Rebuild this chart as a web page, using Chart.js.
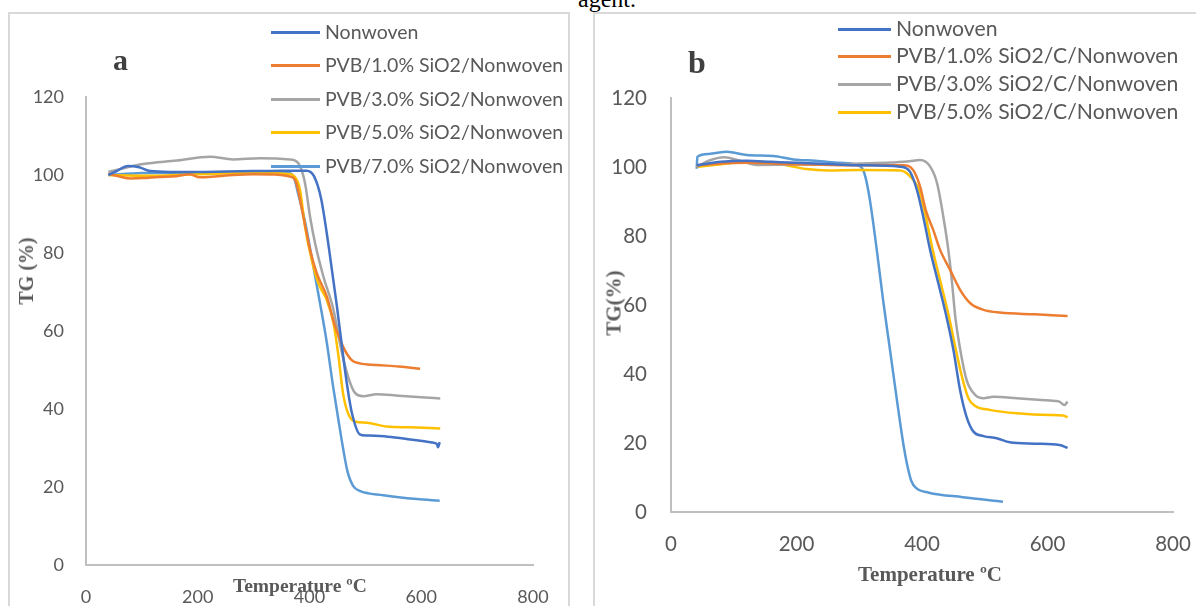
<!DOCTYPE html>
<html lang="en">

<head>
    <meta charset="UTF-8">
    <title>TG curves a / b</title>
    <script src="https://cdn.jsdelivr.net/npm/chart.js"></script>
    <style>
        body { margin: 0; width: 1196px; height: 606px; overflow: hidden; background: #fff; position: relative; font-family: Lato, sans-serif; }
        .frame { position: absolute; border: 2px solid #d9d9d9; }
        canvas { position: absolute; top: 0; }
        .txt { position: absolute; white-space: nowrap; color: #595959; line-height: 1; }
        .serif { font-family: "Liberation Serif", serif; font-weight: bold; }
        .swatch { position: absolute; height: 3px; }
        .rot { transform: translate(-50%, -50%) rotate(-90deg); }
    </style>
</head>

<body>
    <div class="txt" style="left:578px; top:-13px; font-family:'Liberation Serif',serif; font-size:24px; color:#000;">agent.</div>

    <div class="frame" style="left:8px; top:12px; width:558px; height:640px;"></div>
    <div class="frame" style="left:593px; top:12px; width:640px; height:640px;"></div>

    <canvas id="chartA" width="596" height="606" style="left:0px;"></canvas>
    <canvas id="chartB" width="600" height="606" style="left:596px;"></canvas>

    <div class="txt serif" style="left:113px; top:45px; font-size:30px; color:#404040;">a</div>
    <div class="txt serif" style="left:688px; top:46px; font-size:32px; color:#404040;">b</div>

    <div class="txt serif" style="left:233px; top:576px; font-size:19.5px;">Temperature ºC</div>
    <div class="txt serif" style="left:858px; top:564px; font-size:21px;">Temperature ºC</div>
    <div class="txt serif rot" style="left:26px; top:271px; font-size:20px;">TG (%)</div>
    <div class="txt serif rot" style="left:614px; top:303px; font-size:21px;">TG(%)</div>

    <div id="legendA"></div>
    <div id="legendB"></div>

    <script>
        // axis ticks (same for both panels)
        const tempTicks = [0, 200, 400, 600, 800];
        const tgTicks = [0, 20, 40, 60, 80, 100, 120];

        const colors = ['#4472C4', '#ED7D31', '#A5A5A5', '#FFC000', '#5B9BD5'];

        // ---- panel a ----
        const namesA = ['Nonwoven', 'PVB/1.0% SiO2/Nonwoven', 'PVB/3.0% SiO2/Nonwoven', 'PVB/5.0% SiO2/Nonwoven', 'PVB/7.0% SiO2/Nonwoven'];

        const aNonwovenT = [40, 55, 75, 95, 115, 150, 200, 250, 300, 350, 395, 408, 421, 435, 449, 462, 469, 476, 490, 502, 540, 580, 620, 628, 630, 633];
        const aNonwovenTG = [100, 101, 102.3, 102, 101, 100.8, 100.8, 100.9, 101, 101.1, 101.1, 99.7, 93.8, 81, 66.4, 51.6, 44.5, 38.9, 33.5, 33.2, 32.9, 32.2, 31.4, 31, 30.2, 31.5];

        const aPvb1T = [40, 60, 80, 102, 130, 162, 185, 204, 230, 263, 300, 340, 365, 375, 389, 401, 413, 431, 446, 460, 475, 490, 520, 560, 598];
        const aPvb1TG = [100.3, 99.6, 99.1, 99.2, 99.5, 99.7, 100.2, 99.4, 99.6, 100, 100.2, 100.1, 99.6, 98.5, 89.3, 80.8, 74.8, 68.8, 61.1, 56, 52.6, 51.7, 51.3, 50.9, 50.3];

        const aPvb3T = [40, 60, 102, 162, 222, 263, 311, 365, 380, 392, 401, 410, 425, 443, 457, 469, 481, 496, 520, 560, 600, 634];
        const aPvb3TG = [100.8, 101.5, 102.8, 103.7, 104.7, 104, 104.3, 104, 103, 97.9, 89.3, 82.5, 73.9, 65.4, 55.1, 48.3, 44.2, 43.3, 43.8, 43.4, 43, 42.7];

        const aPvb5T = [40, 100, 200, 300, 365, 374, 383, 392, 404, 416, 431, 443, 452, 460, 469, 481, 502, 538, 580, 634];
        const aPvb5TG = [100, 99.8, 100.2, 100.5, 100.2, 99.5, 96.2, 86.7, 78.2, 72.2, 67.9, 62, 53.4, 44, 38.9, 36.8, 36.5, 35.5, 35.3, 35];

        const aPvb7T = [40, 100, 200, 300, 362, 371, 380, 392, 407, 419, 431, 442, 452, 460, 468, 478, 490, 532, 592, 633];
        const aPvb7TG = [100, 100.5, 100.6, 100.8, 100.5, 99.8, 95, 88, 76.5, 67, 57, 46, 37, 30, 24, 20.3, 19, 17.9, 16.9, 16.5];

        // ---- panel b ----
        const namesB = ['Nonwoven', 'PVB/1.0% SiO2/C/Nonwoven', 'PVB/3.0% SiO2/C/Nonwoven', 'PVB/5.0% SiO2/C/Nonwoven'];

        const bNonwovenT = [41, 80, 120, 160, 200, 260, 300, 365, 381, 392, 402, 413, 426, 439, 450, 461, 471, 482, 498, 519, 540, 580, 619, 632];
        const bNonwovenTG = [100.5, 101.5, 101.8, 101.5, 101.2, 100.8, 100.5, 100.1, 98.6, 93.3, 85.6, 75.9, 66.3, 56.6, 47, 35, 27.6, 23.3, 22, 21.4, 20.2, 19.8, 19.4, 18.6];

        const bPvb1T = [41, 80, 120, 200, 280, 370, 386, 397, 406, 418, 429, 445, 461, 477, 498, 524, 580, 632];
        const bPvb1TG = [100.5, 101, 101.2, 100.8, 100.5, 100.5, 99.1, 94.3, 87.5, 81.7, 75.9, 70.1, 64.3, 60.5, 58.6, 57.8, 57.3, 56.8];

        const bPvb3T = [41, 60, 85, 110, 137, 200, 250, 300, 350, 380, 397, 413, 424, 434, 442, 448, 453, 461, 471, 485, 498, 514, 551, 604, 619, 627, 632];
        const bPvb3TG = [100, 101.8, 102.8, 101.8, 100.6, 100.7, 100.7, 101, 101.3, 101.7, 102, 100.1, 95.3, 85.6, 75.9, 66.3, 56.6, 47, 38.3, 33.9, 33, 33.4, 33, 32.3, 32, 31, 32];

        const bPvb5T = [41, 80, 120, 160, 190, 216, 250, 300, 365, 380, 396, 406, 417, 430, 443, 454, 464, 474, 485, 508, 551, 604, 625, 632];
        const bPvb5TG = [100, 100.8, 101.5, 101.3, 100.3, 99.4, 99, 99.1, 99, 97.5, 93, 85.6, 76, 66.3, 56.6, 47, 39, 33, 30.7, 29.6, 28.6, 28.1, 28, 27.4];

        // unlabelled light blue curve in panel b
        const bExtraT = [41, 42, 60, 89, 121, 163, 195, 230, 269, 295, 305, 310, 317, 328, 338, 349, 360, 370, 376, 383, 391, 411, 465, 529];
        const bExtraTG = [99.5, 103, 103.8, 104.4, 103.5, 103.2, 102.2, 101.8, 101.2, 100.7, 99.5, 97, 90.4, 75.9, 61.4, 47, 32.5, 20, 14, 9, 6.9, 5.6, 4.3, 3];

        function pts(ts, gs) {
            return ts.map((t, i) => ({ x: t, y: gs[i] }));
        }

        function line(label, color, ts, gs) {
            return {
                label: label,
                data: pts(ts, gs),
                borderColor: color,
                backgroundColor: color,
                borderWidth: 2.5,
                pointRadius: 0,
                showLine: true,
                cubicInterpolationMode: 'monotone'
            };
        }

        // the plot box is fixed by hand, so drop the extra room chart.js keeps for edge labels
        function noEdgePadding(s) {
            s.paddingLeft = 0;
            s.paddingRight = 0;
            s.paddingTop = 0;
            s.paddingBottom = 0;
        }

        // g: chart area inside the canvas + font sizes
        function makeChart(id, datasets, g) {
            const ctx = document.getElementById(id).getContext('2d');
            new Chart(ctx, {
                type: 'scatter',
                data: { datasets: datasets },
                options: {
                    responsive: false,
                    animation: false,
                    layout: { padding: { left: 0, top: g.top, right: g.w - g.right, bottom: 0 } },
                    plugins: { legend: { display: false }, tooltip: { enabled: false } },
                    scales: {
                        x: {
                            type: 'linear',
                            min: tempTicks[0],
                            max: tempTicks[tempTicks.length - 1],
                            afterBuildTicks: s => { s.ticks = tempTicks.map(v => ({ value: v })); },
                            afterFit: s => { s.height = g.h - g.bottom; noEdgePadding(s); },
                            grid: { display: false, drawTicks: false },
                            border: { display: true, color: '#bfbfbf', width: 2 },
                            ticks: { color: '#595959', padding: g.xPad, font: { family: 'Lato', size: g.tick } }
                        },
                        y: {
                            type: 'linear',
                            min: tgTicks[0],
                            max: tgTicks[tgTicks.length - 1],
                            afterBuildTicks: s => { s.ticks = tgTicks.map(v => ({ value: v })); },
                            afterFit: s => { s.width = g.left; noEdgePadding(s); },
                            grid: { display: false, drawTicks: false },
                            border: { display: true, color: '#bfbfbf', width: 2 },
                            ticks: { color: '#595959', padding: g.yPad, font: { family: 'Lato', size: g.tick } }
                        }
                    }
                }
            });
        }

        function makeLegend(id, names, g) {
            const box = document.getElementById(id);
            names.forEach((name, i) => {
                const cy = g.y0 + i * g.dy;
                const sw = document.createElement('div');
                sw.className = 'swatch';
                sw.style.left = g.sx + 'px';
                sw.style.width = g.sw + 'px';
                sw.style.top = (cy - 1.5) + 'px';
                sw.style.background = colors[i];
                box.appendChild(sw);
                const t = document.createElement('div');
                t.className = 'txt';
                t.textContent = name;
                t.style.left = g.tx + 'px';
                t.style.fontSize = g.size + 'px';
                t.style.top = (cy - 0.53 * g.size) + 'px';
                box.appendChild(t);
            });
        }

        document.addEventListener('DOMContentLoaded', function () {
            makeChart('chartA', [
                line(namesA[0], colors[0], aNonwovenT, aNonwovenTG),
                line(namesA[1], colors[1], aPvb1T, aPvb1TG),
                line(namesA[2], colors[2], aPvb3T, aPvb3TG),
                line(namesA[3], colors[3], aPvb5T, aPvb5TG),
                line(namesA[4], colors[4], aPvb7T, aPvb7TG)
            ], { w: 596, h: 606, left: 86, top: 97, right: 533, bottom: 565, tick: 18, xPad: 21, yPad: 22 });

            makeChart('chartB', [
                line(namesB[0], colors[0], bNonwovenT, bNonwovenTG),
                line(namesB[1], colors[1], bPvb1T, bPvb1TG),
                line(namesB[2], colors[2], bPvb3T, bPvb3TG),
                line(namesB[3], colors[3], bPvb5T, bPvb5TG),
                line('', colors[4], bExtraT, bExtraTG)
            ], { w: 600, h: 606, left: 75, top: 98, right: 577, bottom: 512, tick: 20.5, xPad: 20, yPad: 24 });

            makeLegend('legendA', namesA, { sx: 271, sw: 49, tx: 325, y0: 32, dy: 33.6, size: 19.5 });
            makeLegend('legendB', namesB, { sx: 838, sw: 53, tx: 896, y0: 29, dy: 27.7, size: 21.2 });
        });
    </script>
</body>

</html>
